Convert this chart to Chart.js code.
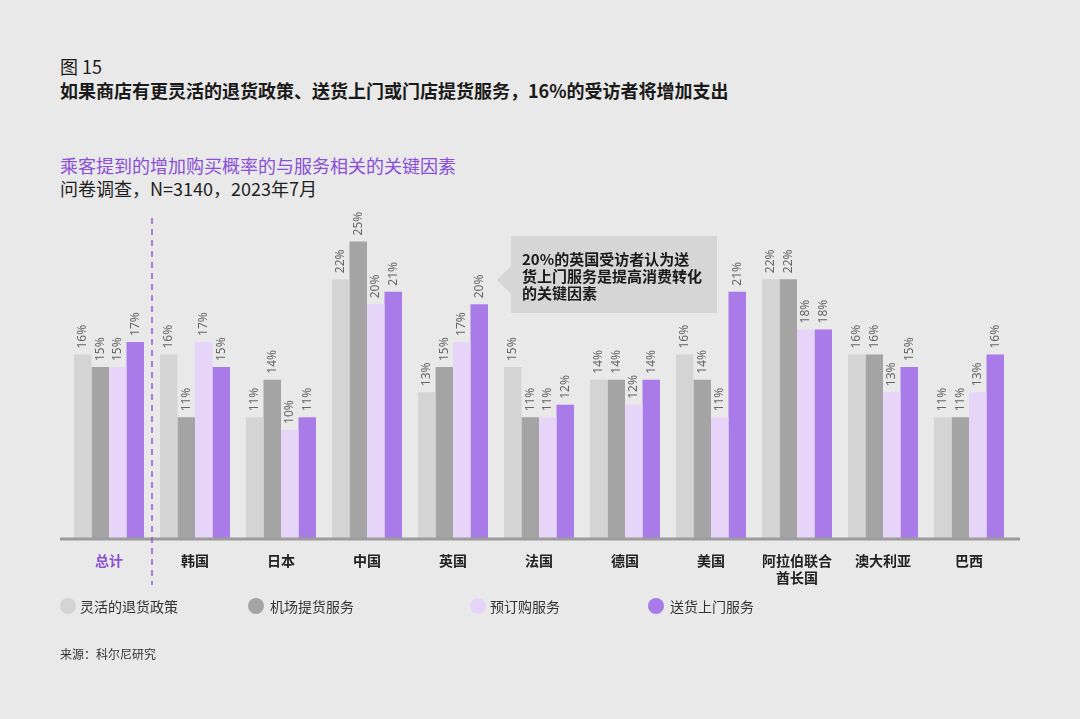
<!DOCTYPE html>
<html>
<head>
<meta charset="utf-8">
<script src="https://cdn.jsdelivr.net/npm/chart.js@4/dist/chart.umd.min.js"></script>
<style>
  body { margin: 0; background: #e9e9e9; font-family: "Noto Sans CJK SC", "Noto Sans", sans-serif; }
  #page { position: relative; width: 1080px; height: 719px; background: #e9e9e9; overflow: hidden; }
  .txt { position: absolute; left: 60px; white-space: nowrap; color: #1a1a1a; }
  #wrap { position: absolute; left: 0; top: 0; width: 1080px; height: 719px; }
  .leg { position: absolute; top: 597px; font-size: 14px; color: #333; line-height: 18px; }
  .dot { position: absolute; top: 598px; width: 16px; height: 16px; border-radius: 50%; }
</style>
</head>
<body>
<div id="page">
  <div class="txt" style="top:53px;font-size:18px;">图 15</div>
  <div class="txt" style="top:77px;font-size:18px;font-weight:bold;">如果商店有更灵活的退货政策、送货上门或门店提货服务，16%的受访者将增加支出</div>
  <div class="txt" style="top:152px;font-size:18px;color:#8a4fd6;">乘客提到的增加购买概率的与服务相关的关键因素</div>
  <div class="txt" style="top:175px;font-size:18px;color:#222;">问卷调查，N=3140，2023年7月</div>
  <div id="wrap"><canvas id="barChart"></canvas></div>
  <div id="legend"></div>
  <div class="txt" style="top:645px;font-size:12px;color:#333;">来源：科尔尼研究</div>
</div>
<script>
const categories = ['总计', '韩国', '日本', '中国', '英国', '法国', '德国', '美国', ['阿拉伯联合', '酋长国'], '澳大利亚', '巴西'];
const seriesNames = ['灵活的退货政策', '机场提货服务', '预订购服务', '送货上门服务'];
const returnPolicy = [16, 16, 11, 22, 13, 15, 14, 16, 22, 16, 11];
const airportPickup = [15, 11, 14, 25, 15, 11, 14, 14, 22, 16, 11];
const preOrder = [15, 17, 10, 20, 17, 11, 12, 11, 18, 13, 13];
const homeDelivery = [17, 15, 11, 21, 20, 12, 14, 21, 18, 15, 16];
const colors = ['#d4d4d4', '#a4a4a4', '#e7d5f9', '#a97be8'];
const calloutLines = ['20%的英国受访者认为送', '货上门服务是提高消费转化', '的关键因素'];

// legend, laid out by hand like the original
const legendPos = [[60, 80], [248, 270], [470, 490], [648, 670]];
const legendEl = document.getElementById('legend');
seriesNames.forEach((name, i) => {
  legendEl.insertAdjacentHTML('beforeend',
    '<div class="dot" style="left:' + legendPos[i][0] + 'px;background:' + colors[i] + '"></div>' +
    '<div class="leg" style="left:' + legendPos[i][1] + 'px">' + name + '</div>');
});

const extras = {
  id: 'extras',
  afterDatasetsDraw(chart) {
    const ctx = chart.ctx;
    const area = chart.chartArea;
    const x = chart.scales.x;

    // value labels, rotated
    ctx.save();
    ctx.fillStyle = '#666';
    ctx.font = '12px "Noto Sans", sans-serif';
    ctx.textAlign = 'left';
    ctx.textBaseline = 'middle';
    chart.data.datasets.forEach((ds, di) => {
      chart.getDatasetMeta(di).data.forEach((bar, i) => {
        ctx.save();
        ctx.translate(bar.x, bar.y - 6);
        ctx.rotate(-Math.PI / 2);
        ctx.fillText(ds.data[i] + '%', 0, 0);
        ctx.restore();
      });
    });
    ctx.restore();

    // axis line
    ctx.save();
    ctx.strokeStyle = '#9c9c9c';
    ctx.lineWidth = 3;
    ctx.beginPath();
    ctx.moveTo(area.left - 6, area.bottom + 1);
    ctx.lineTo(area.right + 8, area.bottom + 1);
    ctx.stroke();

    // dashed divider between 总计 and the countries
    const divX = (x.getPixelForValue(0) + x.getPixelForValue(1)) / 2;
    ctx.strokeStyle = '#8a5cd6';
    ctx.lineWidth = 1.5;
    ctx.setLineDash([6, 5]);
    ctx.beginPath();
    ctx.moveTo(divX, 218);
    ctx.lineTo(divX, 585);
    ctx.stroke();
    ctx.setLineDash([]);

    // callout box
    ctx.fillStyle = '#d6d6d6';
    ctx.fillRect(511, 236, 206, 77);
    ctx.beginPath();
    ctx.moveTo(511, 266);
    ctx.lineTo(497, 280);
    ctx.lineTo(511, 294);
    ctx.closePath();
    ctx.fill();
    ctx.fillStyle = '#1a1a1a';
    ctx.font = 'bold 15px "Noto Sans CJK SC", sans-serif';
    ctx.textBaseline = 'middle';
    calloutLines.forEach((t, i) => ctx.fillText(t, 522, 259 + i * 17));
    ctx.restore();
  }
};

const barChart = new Chart(document.getElementById('barChart'), { // eslint-disable-line
  type: 'bar',
  data: {
    labels: categories,
    datasets: [
      { label: seriesNames[0], data: returnPolicy, backgroundColor: colors[0] },
      { label: seriesNames[1], data: airportPickup, backgroundColor: colors[1] },
      { label: seriesNames[2], data: preOrder, backgroundColor: colors[2] },
      { label: seriesNames[3], data: homeDelivery, backgroundColor: colors[3] }
    ]
  },
  options: {
    responsive: true,
    maintainAspectRatio: false,
    animation: false,
    layout: { padding: { left: 66, right: 68, top: 205, bottom: 121 } },
    datasets: { bar: { barPercentage: 1, categoryPercentage: 0.814 } },
    plugins: { legend: { display: false }, tooltip: { enabled: false } },
    scales: {
      x: {
        grid: { display: false, drawTicks: false },
        border: { display: false },
        afterFit: s => { s.height = 60; },
        ticks: {
          autoSkip: false,
          maxRotation: 0,
          padding: 14,
          font: { family: '"Noto Sans CJK SC", sans-serif', size: 14, weight: 'bold' },
          color: c => c.index === 0 ? '#8a4fd6' : '#222'
        }
      },
      y: { display: false, min: 1.4, max: 27.9 }
    }
  },
  plugins: [extras]
});
</script>
</body>
</html>
